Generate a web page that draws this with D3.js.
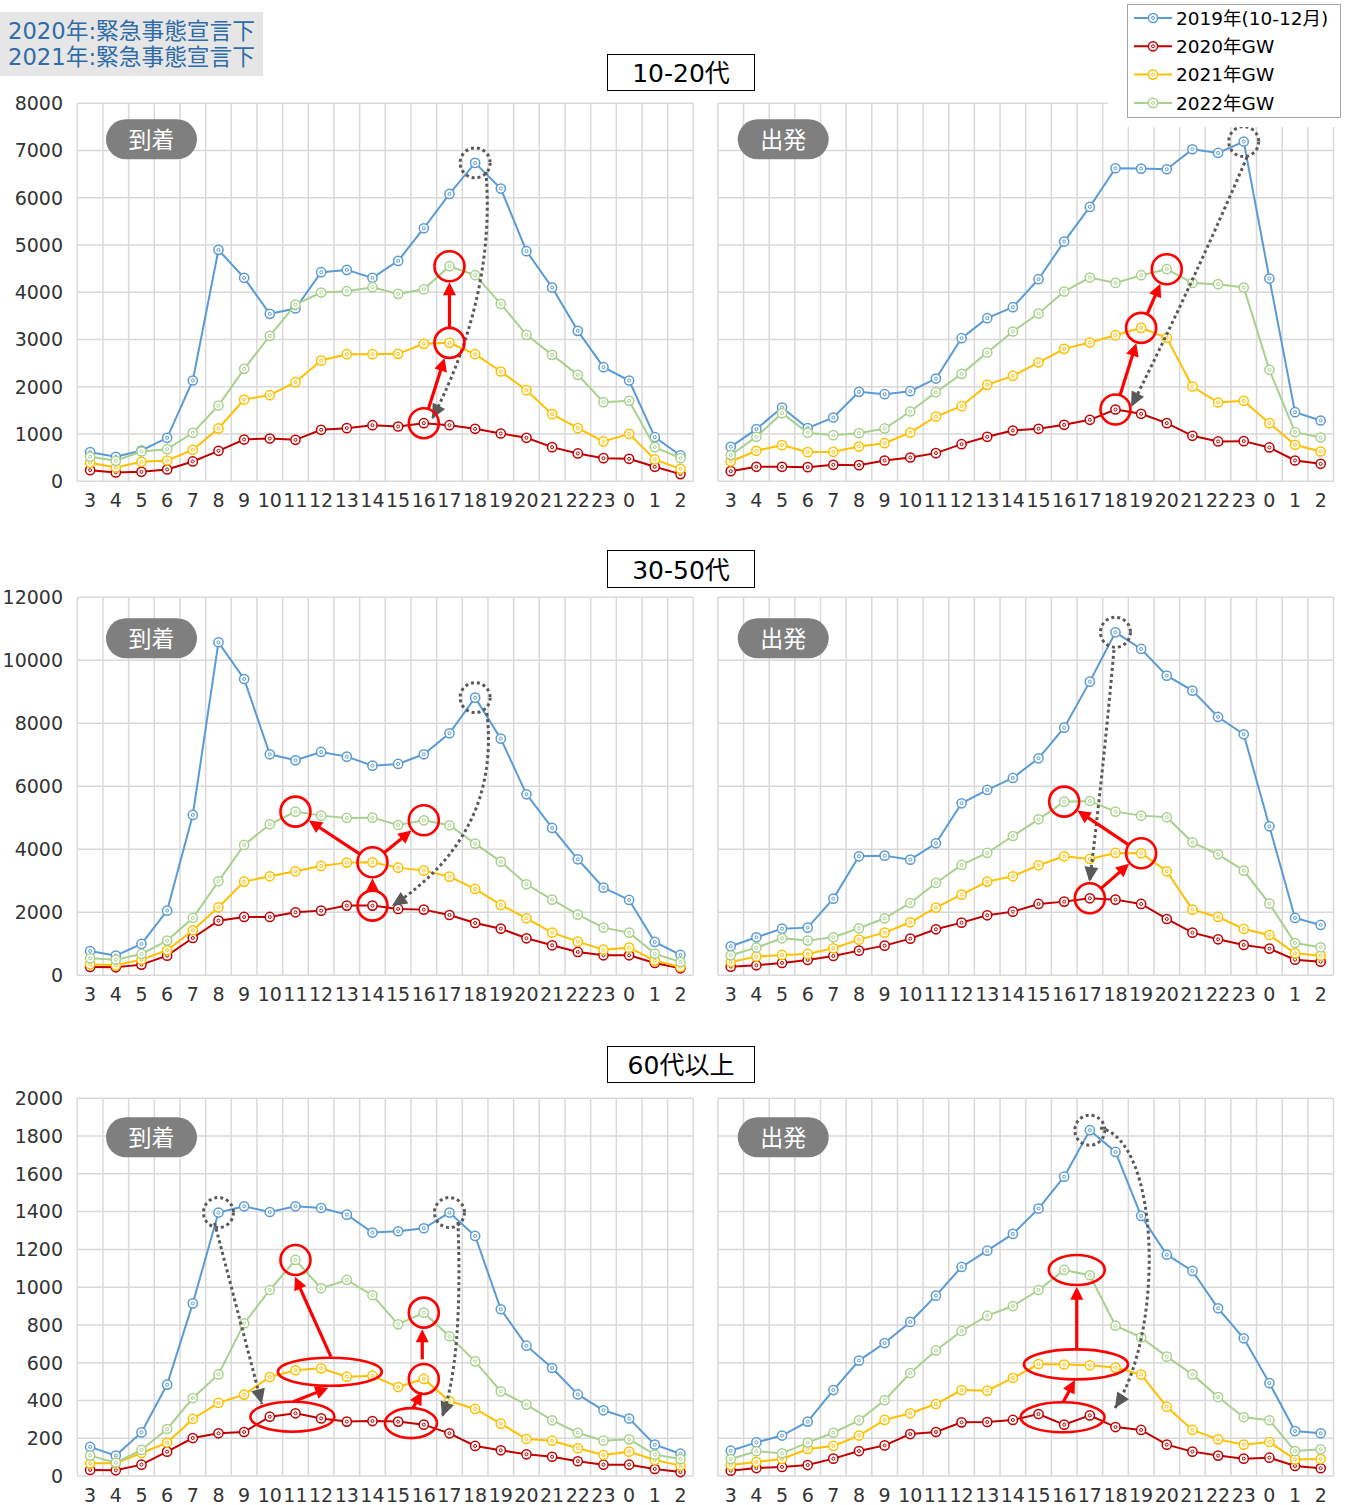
<!DOCTYPE html>
<html><head><meta charset="utf-8">
<script src="https://cdn.jsdelivr.net/npm/d3@7"></script>
<style>body{margin:0;background:#fff;} svg{display:block;}</style>
</head><body>
<svg id="chart" width="1348" height="1505"></svg>
<script>
// ---------- categories & labels ----------
const hours = ["3","4","5","6","7","8","9","10","11","12","13","14","15","16","17","18","19","20","21","22","23","0","1","2"];
const seriesNames = ["2019年(10-12月)","2020年GW","2021年GW","2022年GW"];
const seriesColors = ["#5B9BD5","#C00000","#FFC000","#A9D18E"];
const rowTitles = ["10-20代","30-50代","60代以上"];
const badgeTexts = ["到着","出発"];
const noteLines = ["2020年:緊急事態宣言下","2021年:緊急事態宣言下"];
const yMaxes = [8000,12000,2000];
const ySteps = [1000,2000,200];

// ---------- data: 10-20代 ----------
const a1_2019 = [617,518,652,920,2133,4898,4306,3544,3657,4425,4474,4306,4665,5356,6083,6739,6196,4870,4101,3184,2415,2133,934,547];
const a1_2020 = [236,187,201,250,420,645,885,906,878,1090,1125,1188,1160,1230,1188,1111,1012,920,723,589,490,476,307,152];
const a1_2021 = [391,293,412,440,666,1118,1731,1823,2098,2556,2690,2690,2697,2909,2930,2690,2324,1929,1421,1125,843,1005,462,264];
const a1_2022 = [518,434,631,680,1026,1604,2380,3078,3741,3995,4023,4108,3967,4065,4552,4362,3755,3099,2676,2253,1675,1703,723,490];
const d1_2019 = [730,1104,1562,1125,1350,1893,1844,1907,2175,3029,3452,3685,4277,5074,5807,6625,6618,6604,7027,6950,7190,4291,1463,1287];
const d1_2020 = [215,307,307,300,349,342,440,504,596,786,942,1075,1111,1195,1301,1520,1428,1231,963,843,850,716,440,370];
const d1_2021 = [420,645,765,617,624,737,807,1033,1371,1590,2041,2232,2514,2803,2937,3092,3247,3036,2006,1668,1703,1231,772,631];
const d1_2022 = [554,942,1442,1026,977,1019,1118,1477,1886,2274,2726,3170,3551,4016,4312,4199,4362,4489,4199,4171,4101,2359,1040,927];
// ---------- data: 30-50代 ----------
const a2_2019 = [772,624,995,2053,5090,10571,9407,7016,6825,7090,6942,6656,6709,7016,7683,8815,7513,5746,4677,3683,2783,2392,1058,646];
const a2_2020 = [265,254,339,624,1185,1735,1852,1852,2000,2053,2212,2212,2106,2085,1915,1661,1481,1175,952,741,635,635,392,222];
const a2_2021 = [349,317,497,794,1429,2159,2974,3143,3302,3471,3577,3587,3418,3323,3132,2741,2233,1810,1354,1069,815,878,466,265];
const a2_2022 = [540,497,677,1101,1820,2984,4138,4794,5196,5069,4995,5005,4772,4921,4762,4180,3608,2889,2402,1926,1513,1354,688,423];
const d2_2019 = [921,1206,1481,1513,2434,3778,3799,3672,4190,5460,5884,6265,6889,7862,9323,10889,10360,9513,9037,8201,7651,4730,1820,1598];
const d2_2020 = [275,317,392,487,614,783,942,1164,1460,1672,1905,2021,2265,2339,2444,2402,2265,1788,1354,1143,963,847,497,434];
const d2_2021 = [423,593,646,677,857,1132,1354,1683,2148,2561,2974,3143,3492,3778,3693,3884,3873,3302,2085,1852,1471,1280,698,624];
const d2_2022 = [635,878,1175,1101,1206,1492,1810,2296,2931,3503,3884,4423,4952,5513,5534,5196,5069,5016,4222,3841,3323,2275,1026,889];
// ---------- data: 60代以上 ----------
const a3_2019 = [154,108,231,484,914,1395,1428,1398,1428,1419,1384,1289,1296,1312,1395,1271,883,690,572,432,348,304,166,118];
const a3_2020 = [32,30,60,129,201,226,233,314,332,305,288,291,288,272,226,159,136,115,102,78,60,60,37,21];
const a3_2021 = [67,67,122,177,302,387,431,524,560,570,526,531,471,514,397,355,277,196,187,147,111,129,85,55];
const a3_2022 = [108,71,138,249,413,538,808,985,1144,994,1038,957,803,865,740,607,448,378,295,229,187,194,113,90];
const d3_2019 = [134,178,214,288,455,611,704,816,955,1107,1193,1282,1416,1585,1831,1716,1377,1172,1086,888,729,492,238,226];
const d3_2020 = [28,42,48,58,92,132,162,222,233,284,286,297,328,272,321,259,244,166,129,108,92,97,53,41];
const d3_2021 = [58,74,90,143,159,214,297,332,381,455,452,519,593,590,586,574,537,367,244,194,166,180,88,90];
const d3_2022 = [90,131,120,177,229,295,401,545,665,768,849,900,985,1091,1063,796,734,632,538,418,311,295,132,141];

// ---------- annotations (in data space: [category index, value]) ----------
const annotations = [
  { circles:[[13,1230],[14,2930],[14,4552]], ellipses:[],
    arrows:[{f:[13,1230],t:[14,2930],trim:true},{f:[14,2930],t:[14,4552],trim:true}],
    dotCircles:[[15,6739]], dotPaths:[[[15.42,6550],[15.81,3953],[13.32,1318]]] },
  { circles:[[15,1520],[16,3247],[17,4489]], ellipses:[],
    arrows:[{f:[15,1520],t:[16,3247],trim:true},{f:[16,3247],t:[17,4489],trim:true}],
    dotCircles:[[20,7190]], dotPaths:[[[20.13,6864],[17.99,4153],[15.61,1572]]] },
  { circles:[[11,2212],[11,3587],[8,5196],[13,4921]], ellipses:[],
    arrows:[{f:[11,2212],t:[11,3587],trim:true},{f:[11,3587],t:[8,5196],trim:true},{f:[11,3587],t:[13,4921],trim:true}],
    dotCircles:[[15,8815]], dotPaths:[[[15.46,8327],[15.99,4470],[11.76,2200]]] },
  { circles:[[14,2444],[16,3873],[13,5513]], ellipses:[],
    arrows:[{f:[14,2444],t:[16,3873],trim:true},{f:[16,3873],t:[13,5513],trim:true}],
    dotCircles:[[15,10889]], dotPaths:[[[14.94,10327],[14.54,6644],[13.99,2962]]] },
  { circles:[[8,1144],[13,514],[13,865]],
    ellipses:[{c:[7.88,314],rx:42,ry:15},{c:[9.34,552],rx:52,ry:14},{c:[12.5,280],rx:26,ry:15}],
    arrows:[{f:[7.91,393],t:[9.28,467]},{f:[9.38,632],t:[7.98,1055]},{f:[12.58,360],t:[12.93,446]},{f:[12.94,618],t:[12.94,777]}],
    dotCircles:[[5,1395],[14,1395]],
    dotPaths:[[[4.85,1340],[6.69,381]],[[14.33,1345],[14.53,614],[13.71,313]]] },
  { circles:[],
    ellipses:[{c:[12.94,311],rx:42,ry:15},{c:[13.46,591],rx:52,ry:15},{c:[13.49,1091],rx:28,ry:15}],
    arrows:[{f:[12.97,393],t:[13.42,508]},{f:[13.49,671],t:[13.49,1002]}],
    dotCircles:[[14,1831]], dotPaths:[[[14.40,1843],[16.74,1779],[16.94,773],[14.98,360]]] }
];

const panelSeries = [
  [a1_2019,a1_2020,a1_2021,a1_2022],[d1_2019,d1_2020,d1_2021,d1_2022],
  [a2_2019,a2_2020,a2_2021,a2_2022],[d2_2019,d2_2020,d2_2021,d2_2022],
  [a3_2019,a3_2020,a3_2021,a3_2022],[d3_2019,d3_2020,d3_2021,d3_2022]
];

// ---------- layout ----------
const rowsLayout = [
  {top:103.3, bottom:481.3, titleY:54, titleH:36, badgeDy:16},
  {top:597.3, bottom:975.3, titleY:550, titleH:37, badgeDy:21},
  {top:1098.3, bottom:1476, titleY:1046, titleH:36, badgeDy:19}
];
const colsLayout = [
  {x0:77.3, x1:693.3, badgeDx:28.7, yLabels:true},
  {x0:717.9, x1:1333.5, badgeDx:19.8, yLabels:false}
];
const numFont = "'DejaVu Sans','Noto Sans CJK JP',sans-serif";
const jpFont = "'Noto Sans CJK JP','DejaVu Sans',sans-serif";
const gridColor = "#d9d9d9";

const svg = d3.select("#chart");

function drawArrowHead(g, tip, dir, len, wid, color){
  const L = Math.hypot(dir[0],dir[1]); const ux=dir[0]/L, uy=dir[1]/L;
  const bx = tip[0]-ux*len, by = tip[1]-uy*len;
  const px=-uy, py=ux;
  g.append("path").attr("d",`M${tip[0]},${tip[1]}L${bx+px*wid/2},${by+py*wid/2}L${bx-px*wid/2},${by-py*wid/2}Z`)
    .attr("fill",color);
}

panelSeries.forEach((series, p) => {
  const r = Math.floor(p/2), c = p%2;
  const R = rowsLayout[r], C = colsLayout[c];
  const g = svg.append("g");
  const x = d3.scaleBand().domain(hours).range([C.x0, C.x1]).padding(0);
  const bw = x.bandwidth();
  const y = d3.scaleLinear().domain([0, yMaxes[r]]).range([R.bottom, R.top]);
  const cx = i => x(hours[0]) + bw*(i+0.5);
  const P = d => [cx(d[0]), y(d[1])];
  const ticks = d3.range(0, yMaxes[r]+ySteps[r]/2, ySteps[r]);

  // grid
  g.selectAll(".hg").data(ticks).join("line")
    .attr("x1",C.x0).attr("x2",C.x1).attr("y1",d=>y(d)).attr("y2",d=>y(d))
    .attr("stroke",gridColor).attr("stroke-width",1.5);
  g.selectAll(".vg").data(hours.concat(["end"])).join("line")
    .attr("x1",d=>d==="end"?C.x1:x(d)).attr("x2",d=>d==="end"?C.x1:x(d))
    .attr("y1",R.top).attr("y2",R.bottom)
    .attr("stroke",gridColor).attr("stroke-width",1.5);

  // y labels
  if (C.yLabels) {
    g.selectAll(".yl").data(ticks).join("text")
      .attr("x",63).attr("y",d=>y(d)).attr("dy","0.36em")
      .attr("text-anchor","end").attr("font-family",numFont).attr("font-size",19).attr("fill","#333")
      .text(d=>d);
  }
  // x labels
  g.selectAll(".xl").data(hours).join("text")
    .attr("x",d=>x(d)+bw/2).attr("y",R.bottom+19).attr("dy","0.36em")
    .attr("text-anchor","middle").attr("font-family",numFont).attr("font-size",19).attr("fill","#333")
    .text(d=>d);

  // legend background occludes top-right grid
  if (p===1) {
    svg.append("rect").attr("x",1108).attr("y",0).attr("width",240).attr("height",127).attr("fill","#fff");
  }

  // series
  const line = d3.line().x((d,i)=>cx(i)).y(d=>y(d));
  series.forEach((vals, s) => {
    const col = seriesColors[s];
    const sg = g.append("g");
    sg.append("path").attr("d",line(vals)).attr("fill","none").attr("stroke",col).attr("stroke-width",2);
    sg.selectAll(".m").data(vals).join("circle")
      .attr("cx",(d,i)=>cx(i)).attr("cy",d=>y(d)).attr("r",4.6)
      .attr("fill","#fff").attr("stroke",col).attr("stroke-width",1.5);
    sg.selectAll(".m2").data(vals).join("circle")
      .attr("cx",(d,i)=>cx(i)).attr("cy",d=>y(d)).attr("r",1.5)
      .attr("fill","none").attr("stroke",col).attr("stroke-width",1);
  });

  // badge
  const bx = C.x0 + C.badgeDx, by = R.top + R.badgeDy;
  g.append("rect").attr("x",bx).attr("y",by).attr("width",91).attr("height",40).attr("rx",20).attr("fill","#7f7f7f");
  g.append("text").attr("x",bx+45.5).attr("y",by+20).attr("dy","0.36em").attr("text-anchor","middle")
    .attr("font-family",jpFont).attr("font-size",23).attr("fill","#fff").text(badgeTexts[c]);

  // annotations
  const A = annotations[p];
  const ag = g.append("g");
  const red = "#FF0000", gray = "#595959";
  A.dotPaths.forEach(pts => {
    const q = pts.map(P);
    let d, dir;
    if (q.length===2){ d=`M${q[0]}L${q[1]}`; dir=[q[1][0]-q[0][0],q[1][1]-q[0][1]]; }
    else if (q.length===3){ d=`M${q[0]}Q${q[1]} ${q[2]}`; dir=[q[2][0]-q[1][0],q[2][1]-q[1][1]]; }
    else { d=`M${q[0]}C${q[1]} ${q[2]} ${q[3]}`; dir=[q[3][0]-q[2][0],q[3][1]-q[2][1]]; }
    const end = q[q.length-1];
    ag.append("path").attr("d",d).attr("fill","none").attr("stroke",gray).attr("stroke-width",3)
      .attr("stroke-dasharray","3,3");
    drawArrowHead(ag, end, dir, 15, 14, gray);
  });
  A.dotCircles.forEach(d => {
    const q = P(d);
    ag.append("circle").attr("cx",q[0]).attr("cy",q[1]).attr("r",15).attr("fill","none")
      .attr("stroke",gray).attr("stroke-width",3).attr("stroke-dasharray","3,3");
  });
  A.circles.forEach(d => {
    const q = P(d);
    ag.append("circle").attr("cx",q[0]).attr("cy",q[1]).attr("r",15).attr("fill","none")
      .attr("stroke",red).attr("stroke-width",2.6);
  });
  A.ellipses.forEach(e => {
    const q = P(e.c);
    ag.append("ellipse").attr("cx",q[0]).attr("cy",q[1]).attr("rx",e.rx).attr("ry",e.ry).attr("fill","none")
      .attr("stroke",red).attr("stroke-width",2.6);
  });
  A.arrows.forEach(a => {
    let f = P(a.f), t = P(a.t);
    const dx=t[0]-f[0], dy=t[1]-f[1], L=Math.hypot(dx,dy), ux=dx/L, uy=dy/L;
    if (a.trim){ f=[f[0]+ux*15,f[1]+uy*15]; t=[t[0]-ux*16,t[1]-uy*16]; }
    const hl = 13;
    ag.append("line").attr("x1",f[0]).attr("y1",f[1]).attr("x2",t[0]-ux*(hl-2)).attr("y2",t[1]-uy*(hl-2))
      .attr("stroke",red).attr("stroke-width",3.2);
    drawArrowHead(ag, t, [ux,uy], hl, 13, red);
  });
});

// ---------- row titles ----------
rowTitles.forEach((t, r) => {
  const R = rowsLayout[r];
  svg.append("rect").attr("x",607.5).attr("y",R.titleY+0.5).attr("width",147).attr("height",R.titleH)
    .attr("fill","#fff").attr("stroke","#000").attr("stroke-width",1);
  svg.append("text").attr("x",681).attr("y",R.titleY+R.titleH/2+1).attr("dy","0.36em").attr("text-anchor","middle")
    .attr("font-family",numFont).attr("font-size",25).attr("fill","#000").text(t);
});

// ---------- top-left note ----------
svg.append("rect").attr("x",0).attr("y",12).attr("width",263).attr("height",64).attr("fill","#e7e6e6");
noteLines.forEach((t,i) => {
  svg.append("text").attr("x",8).attr("y",31+i*26).attr("dy","0.36em")
    .attr("font-family",numFont).attr("font-size",22.7).attr("fill","#2f6ca8").text(t);
});

// ---------- legend ----------
const lg = svg.append("g");
lg.append("rect").attr("x",1127.5).attr("y",4.5).attr("width",213).attr("height",113)
  .attr("fill","#fff").attr("stroke","#a6a6a6").attr("stroke-width",1);
seriesNames.forEach((n,i) => {
  const yy = 18 + i*28.3;
  lg.append("line").attr("x1",1134).attr("x2",1172).attr("y1",yy).attr("y2",yy).attr("stroke",seriesColors[i]).attr("stroke-width",2);
  lg.append("circle").attr("cx",1153).attr("cy",yy).attr("r",4.6).attr("fill","#fff").attr("stroke",seriesColors[i]).attr("stroke-width",1.5);
  lg.append("circle").attr("cx",1153).attr("cy",yy).attr("r",1.5).attr("fill","none").attr("stroke",seriesColors[i]).attr("stroke-width",1);
  lg.append("text").attr("x",1176).attr("y",yy).attr("dy","0.36em").attr("font-family",numFont)
    .attr("font-size",18.5).attr("fill","#000").text(n);
});
</script>
</body></html>
